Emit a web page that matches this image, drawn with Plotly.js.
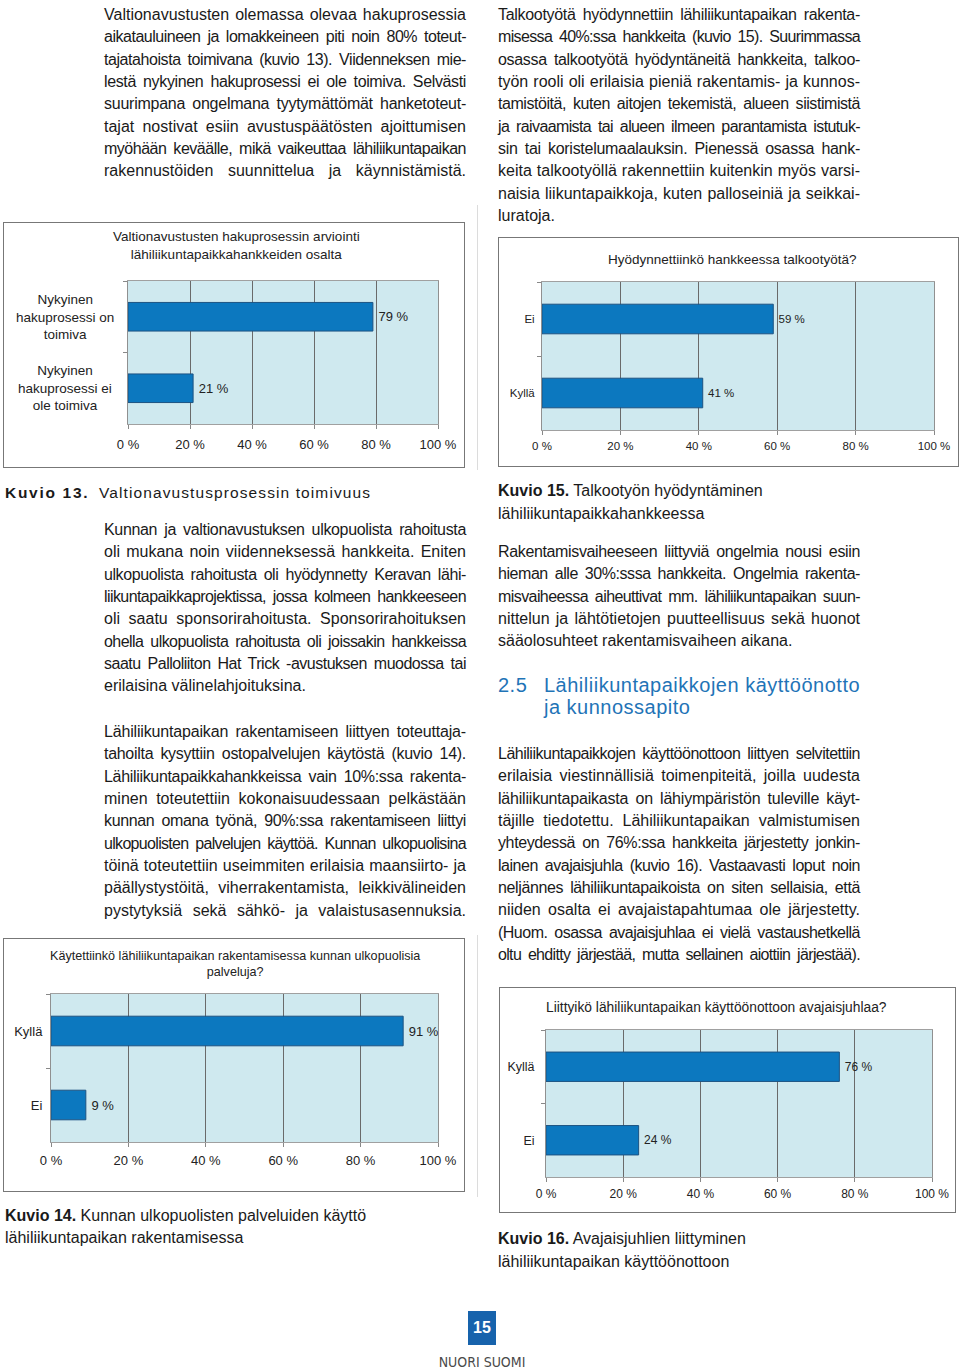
<!DOCTYPE html>
<html><head><meta charset="utf-8">
<script src="https://cdn.plot.ly/plotly-3.0.1.min.js"></script>
<style>
html,body{margin:0;padding:0;background:#fff;}
body{width:960px;height:1370px;position:relative;overflow:hidden;font-family:'Liberation Sans',Arial,Helvetica,sans-serif;color:#1a1a1a;}
.ln{position:absolute;white-space:nowrap;font-size:16px;line-height:22px;height:22px;}
.ln span{white-space:nowrap;display:inline-block;}
.box{position:absolute;border:1px solid #777;box-sizing:border-box;pointer-events:none;}
.plot{position:absolute;}
.cap{position:absolute;font-size:16px;white-space:nowrap;line-height:22px;height:22px;}
.vline{position:absolute;width:1px;background:#dcdcdc;}
.head{position:absolute;font-size:20px;color:#1f74b7;white-space:nowrap;line-height:22px;letter-spacing:0.5px;}
</style></head>
<body>
<div id="c13" class="plot"></div>
<div id="c15" class="plot"></div>
<div id="c14" class="plot"></div>
<div id="c16" class="plot"></div>

<div class="box" style="left:3px;top:222px;width:462px;height:246px;"></div>
<div class="box" style="left:498px;top:237px;width:461px;height:230px;"></div>
<div class="box" style="left:3px;top:938px;width:462px;height:254px;"></div>
<div class="box" style="left:499px;top:987px;width:457px;height:226px;"></div>
<div class="vline" style="left:477px;top:205px;height:265px;"></div>
<div class="vline" style="left:477px;top:935px;height:262px;"></div>

<div class="cap" style="left:5px;top:482px;font-size:15.5px;"><b style="letter-spacing:1.7px;">Kuvio 13.</b></div>
<div class="cap" style="left:99px;top:482px;font-size:15.5px;letter-spacing:1.1px;">Valtionavustusprosessin toimivuus</div>
<div class="cap" style="left:5px;top:1205px;"><b>Kuvio 14.</b> Kunnan ulkopuolisten palveluiden käyttö</div>
<div class="cap" style="left:5px;top:1227px;">lähiliikuntapaikan rakentamisessa</div>
<div class="cap" style="left:498px;top:480px;"><b>Kuvio 15.</b> Talkootyön hyödyntäminen</div>
<div class="cap" style="left:498px;top:503px;">lähiliikuntapaikkahankkeessa</div>
<div class="cap" style="left:498px;top:1228px;"><b>Kuvio 16.</b> Avajaisjuhlien liittyminen</div>
<div class="cap" style="left:498px;top:1251px;">lähiliikuntapaikan käyttöönottoon</div>

<div class="head" style="left:498px;top:674px;">2.5</div>
<div class="head" style="left:544px;top:674px;">Lähiliikuntapaikkojen käyttöönotto</div>
<div class="head" style="left:544px;top:696px;">ja kunnossapito</div>

<div style="position:absolute;left:468px;top:1311px;width:28px;height:34px;background:#1763ac;color:#fff;font-weight:bold;font-size:16px;line-height:34px;text-align:center;">15</div>
<div style="position:absolute;left:402px;top:1353px;width:160px;text-align:center;font-family:'Liberation Sans Narrow','DejaVu Sans Condensed',sans-serif;font-stretch:condensed;font-size:14px;color:#4a4a4a;line-height:18px;">NUORI SUOMI</div>

<script>
// ---- chart data ----
const c13Labels = ['Nykyinen<br>hakuprosessi on<br>toimiva', 'Nykyinen<br>hakuprosessi ei<br>ole toimiva'];
const c13Values = [79, 21];
const c15Labels = ['Ei', 'Kyllä'];
const c15Values = [59, 41];
const c14Labels = ['Kyllä', 'Ei'];
const c14Values = [91, 9];
const c16Labels = ['Kyllä', 'Ei'];
const c16Values = [76, 24];
const pctTicks = [0, 20, 40, 60, 80, 100];
const pctTickText = ['0 %', '20 %', '40 %', '60 %', '80 %', '100 %'];

// ---- body text ----
const paragraphs = [
 {x:104, y:14, w:362, last:true, lines:[
  'Valtionavustusten olemassa olevaa hakuprosessia',
  'aikatauluineen ja lomakkeineen piti noin 80% toteut-',
  'tajatahoista toimivana (kuvio 13). Viidenneksen mie-',
  'lestä nykyinen hakuprosessi ei ole toimiva. Selvästi',
  'suurimpana ongelmana tyytymättömät hanketoteut-',
  'tajat nostivat esiin avustuspäätösten ajoittumisen',
  'myöhään keväälle, mikä vaikeuttaa lähiliikuntapaikan',
  'rakennustöiden suunnittelua ja käynnistämistä.']},
 {x:498, y:14, w:362, last:false, lines:[
  'Talkootyötä hyödynnettiin lähiliikuntapaikan rakenta-',
  'misessa 40%:ssa hankkeita (kuvio 15). Suurimmassa',
  'osassa talkootyötä hyödyntäneitä hankkeita, talkoo-',
  'työn rooli oli erilaisia pieniä rakentamis- ja kunnos-',
  'tamistöitä, kuten aitojen tekemistä, alueen siistimistä',
  'ja raivaamista tai alueen ilmeen parantamista istutuk-',
  'sin tai koristelumaalauksin. Pienessä osassa hank-',
  'keita talkootyöllä rakennettiin kuitenkin myös varsi-',
  'naisia liikuntapaikkoja, kuten palloseiniä ja seikkai-',
  'luratoja.']},
 {x:104, y:529, w:362, last:false, lines:[
  'Kunnan ja valtionavustuksen ulkopuolista rahoitusta',
  'oli mukana noin viidenneksessä hankkeita. Eniten',
  'ulkopuolista rahoitusta oli hyödynnetty Keravan lähi-',
  'liikuntapaikkaprojektissa, jossa kolmeen hankkeeseen',
  'oli saatu sponsorirahoitusta. Sponsorirahoituksen',
  'ohella ulkopuolista rahoitusta oli joissakin hankkeissa',
  'saatu Palloliiton Hat Trick -avustuksen muodossa tai',
  'erilaisina välinelahjoituksina.']},
 {x:104, y:731, w:362, last:true, lines:[
  'Lähiliikuntapaikan rakentamiseen liittyen toteuttaja-',
  'tahoilta kysyttiin ostopalvelujen käytöstä (kuvio 14).',
  'Lähiliikuntapaikkahankkeissa vain 10%:ssa rakenta-',
  'minen toteutettiin kokonaisuudessaan pelkästään',
  'kunnan omana työnä, 90%:ssa rakentamiseen liittyi',
  'ulkopuolisten palvelujen käyttöä. Kunnan ulkopuolisina',
  'töinä toteutettiin useimmiten erilaisia maansiirto- ja',
  'päällystystöitä, viherrakentamista, leikkivälineiden',
  'pystytyksiä sekä sähkö- ja valaistusasennuksia.']},
 {x:498, y:551, w:362, last:false, lines:[
  'Rakentamisvaiheeseen liittyviä ongelmia nousi esiin',
  'hieman alle 30%:sssa hankkeita. Ongelmia rakenta-',
  'misvaiheessa aiheuttivat mm. lähiliikuntapaikan suun-',
  'nittelun ja lähtötietojen puutteellisuus sekä huonot',
  'sääolosuhteet rakentamisvaiheen aikana.']},
 {x:498, y:753, w:362, last:true, lines:[
  'Lähiliikuntapaikkojen käyttöönottoon liittyen selvitettiin',
  'erilaisia viestinnällisiä toimenpiteitä, joilla uudesta',
  'lähiliikuntapaikasta on lähiympäristön tuleville käyt-',
  'täjille tiedotettu. Lähiliikuntapaikan valmistumisen',
  'yhteydessä on 76%:ssa hankkeita järjestetty jonkin-',
  'lainen avajaisjuhla (kuvio 16). Vastaavasti loput noin',
  'neljännes lähiliikuntapaikoista on siten sellaisia, että',
  'niiden osalta ei avajaistapahtumaa ole järjestetty.',
  '(Huom. osassa avajaisjuhlaa ei vielä vastaushetkellä',
  'oltu ehditty järjestää, mutta sellainen aiottiin järjestää).']}
];
const LH = 22.35;
paragraphs.forEach(p => {
  p.lines.forEach((t, i) => {
    const d = document.createElement('div');
    d.className = 'ln';
    d.style.left = p.x + 'px';
    d.style.top = (p.y + i * LH - 10) + 'px';
    const s = document.createElement('span');
    s.textContent = t;
    d.appendChild(s);
    document.body.appendChild(d);
    const isLast = i === p.lines.length - 1;
    const n = (t.match(/ /g) || []).length;
    const nat = s.getBoundingClientRect().width;
    if (nat > p.w - 2) {
      // too wide: tighten letters, then fit with spaces
      const excess = nat - p.w + 3 * n;
      const ls = -excess / t.length;
      s.style.letterSpacing = ls + 'px';
      const nat2 = s.getBoundingClientRect().width;
      if (n > 0) s.style.wordSpacing = ((p.w - nat2) / n) + 'px';
    } else if ((!isLast || p.last) && n > 0) {
      s.style.wordSpacing = ((p.w - nat) / n) + 'px';
    }
  });
});

// ---- charts ----
const FONT = "'Liberation Sans', Arial, Helvetica, sans-serif";
function makeChart(id, o) {
  const el = document.getElementById(id);
  el.style.left = o.left + 'px';
  el.style.top = o.top + 'px';
  const plotLeft = o.left + o.l, plotW = o.w - o.l - o.r, plotTop = o.top + o.t;
  const trace = {
    type: 'bar', orientation: 'h', y: o.labels, x: o.values,
    width: 0.4,
    marker: {color: '#0c78bf', line: {color: '#1d5382', width: 1}},
    texttemplate: '\u2009%{x} %', textposition: 'outside', cliponaxis: false,
    constraintext: 'none',
    textfont: {family: FONT, size: o.fs, color: '#222'},
    hoverinfo: 'skip'
  };
  const annotations = [{
    x: (o.tcx - plotLeft) / plotW, xref: 'paper', xanchor: 'center',
    y: 1, yref: 'paper', yanchor: 'top', yshift: plotTop - o.ttop,
    text: o.title, showarrow: false, align: 'center',
    font: {family: FONT, size: o.tfs, color: '#222'}
  }];
  if (o.annotLabels) {
    o.labels.forEach(l => annotations.push({
      x: 0, xref: 'paper', y: l, yref: 'y', xanchor: 'center', yanchor: 'middle',
      xshift: o.annotShift, text: l, showarrow: false, align: 'center',
      font: {family: FONT, size: o.lfs, color: '#222'}
    }));
  }
  const layout = {
    width: o.w, height: o.h,
    margin: {l: o.l, r: o.r, t: o.t, b: o.b, pad: 0},
    paper_bgcolor: 'rgba(0,0,0,0)', plot_bgcolor: '#cfe9ef',
    font: {family: FONT, color: '#222', size: o.fs},
    xaxis: {range: [0, 100], tickvals: pctTicks, ticktext: pctTickText,
            showgrid: true, gridcolor: '#6a6a6a', gridwidth: 1,
            ticks: 'outside', ticklen: 4, tickcolor: '#888',
            showline: true, linecolor: '#a0a0a0', mirror: true, zeroline: false,
            tickfont: {family: FONT, size: o.fs, color: '#222'},
            ticklabelstandoff: o.xs},
    yaxis: {type: 'category', autorange: 'reversed', tickson: 'boundaries',
            ticks: 'outside', ticklen: 4, tickcolor: '#888',
            showline: true, linecolor: '#909090', mirror: true, showgrid: false,
            zeroline: false, showticklabels: !o.annotLabels,
            ticklabelstandoff: o.ys || 0,
            tickfont: {family: FONT, size: o.lfs, color: '#222'}},
    showlegend: false,
    annotations: annotations
  };
  Plotly.newPlot(el, [trace], layout, {staticPlot: true, displayModeBar: false});
}

makeChart('c13', {left: 3, top: 222, w: 461, h: 245, l: 125, r: 26, t: 59, b: 43,
  labels: c13Labels, values: c13Values, fs: 13, lfs: 13.5, tfs: 13.5, xs: 4,
  title: 'Valtionavustusten hakuprosessin arviointi<br>lähiliikuntapaikkahankkeiden osalta',
  tcx: 236, ttop: 227, annotLabels: true, annotShift: -63});
makeChart('c15', {left: 498, top: 237, w: 460, h: 229, l: 44, r: 24, t: 45, b: 36,
  labels: c15Labels, values: c15Values, fs: 11.5, lfs: 11.5, tfs: 13.5, xs: 1, ys: 4,
  title: 'Hyödynnettiinkö hankkeessa talkootyötä?', tcx: 732, ttop: 250});
makeChart('c14', {left: 3, top: 938, w: 461, h: 253, l: 48, r: 26, t: 56, b: 49,
  labels: c14Labels, values: c14Values, fs: 13, lfs: 13, tfs: 12.6, xs: 2, ys: 5,
  title: 'Käytettiinkö lähiliikuntapaikan rakentamisessa kunnan ulkopuolisia<br>palveluja?',
  tcx: 235, ttop: 947});
makeChart('c16', {left: 499, top: 987, w: 456, h: 225, l: 47, r: 23, t: 43, b: 35,
  labels: c16Labels, values: c16Values, fs: 12, lfs: 12.5, tfs: 13.8, xs: 2, ys: 8,
  title: 'Liittyikö lähiliikuntapaikan käyttöönottoon avajaisjuhlaa?', tcx: 716.5, ttop: 998});
</script>
</body></html>
